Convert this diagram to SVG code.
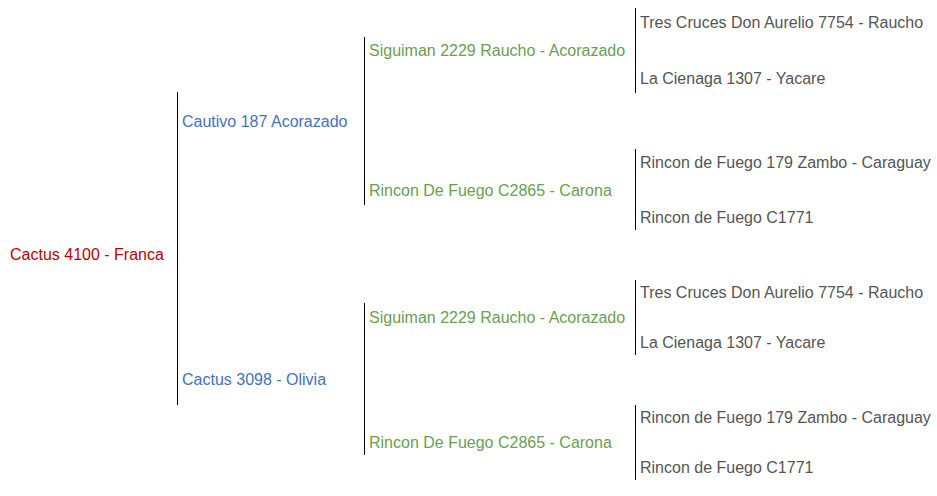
<svg xmlns="http://www.w3.org/2000/svg" width="937" height="496" viewBox="0 0 937 496">
<style>
text{font-family:"Liberation Sans",Arial,sans-serif;font-size:16px}
.g0{fill:#c00000}
.g1{fill:#4472c4}
.g2{fill:#6aa050}
.g3{fill:#555555}
.ln{stroke:#000;stroke-width:1;fill:none}
</style>
<rect width="937" height="496" fill="#fff"/>
<g id="connectors">
<line class="ln" x1="177.5" y1="92" x2="177.5" y2="405"/>
<line class="ln" x1="364.5" y1="37" x2="364.5" y2="205"/>
<line class="ln" x1="364.5" y1="303" x2="364.5" y2="455"/>
<line class="ln" x1="635.5" y1="8" x2="635.5" y2="93"/>
<line class="ln" x1="635.5" y1="149" x2="635.5" y2="230"/>
<line class="ln" x1="635.5" y1="280" x2="635.5" y2="355"/>
<line class="ln" x1="635.5" y1="405" x2="635.5" y2="480"/>
</g>
<g id="n0"><text class="g0" x="10" y="260">Cactus 4100 - Franca</text></g>
<g id="n1"><text class="g1" x="182" y="127">Cautivo 187 Acorazado</text></g>
<g id="n2"><text class="g1" x="182" y="385">Cactus 3098 - Olivia</text></g>
<g id="n3"><text class="g2" x="369" y="56">Siguiman 2229 Raucho - Acorazado</text></g>
<g id="n4"><text class="g2" x="369" y="196">Rincon De Fuego C2865 - Carona</text></g>
<g id="n5"><text class="g2" x="369" y="323">Siguiman 2229 Raucho - Acorazado</text></g>
<g id="n6"><text class="g2" x="369" y="448">Rincon De Fuego C2865 - Carona</text></g>
<g id="n7"><text class="g3" x="640" y="28">Tres Cruces Don Aurelio 7754 - Raucho</text></g>
<g id="n8"><text class="g3" x="640" y="84">La Cienaga 1307 - Yacare</text></g>
<g id="n9"><text class="g3" x="640" y="168">Rincon de Fuego 179 Zambo - Caraguay</text></g>
<g id="n10"><text class="g3" x="640" y="223">Rincon de Fuego C1771</text></g>
<g id="n11"><text class="g3" x="640" y="298">Tres Cruces Don Aurelio 7754 - Raucho</text></g>
<g id="n12"><text class="g3" x="640" y="348">La Cienaga 1307 - Yacare</text></g>
<g id="n13"><text class="g3" x="640" y="423">Rincon de Fuego 179 Zambo - Caraguay</text></g>
<g id="n14"><text class="g3" x="640" y="473">Rincon de Fuego C1771</text></g>
</svg>
